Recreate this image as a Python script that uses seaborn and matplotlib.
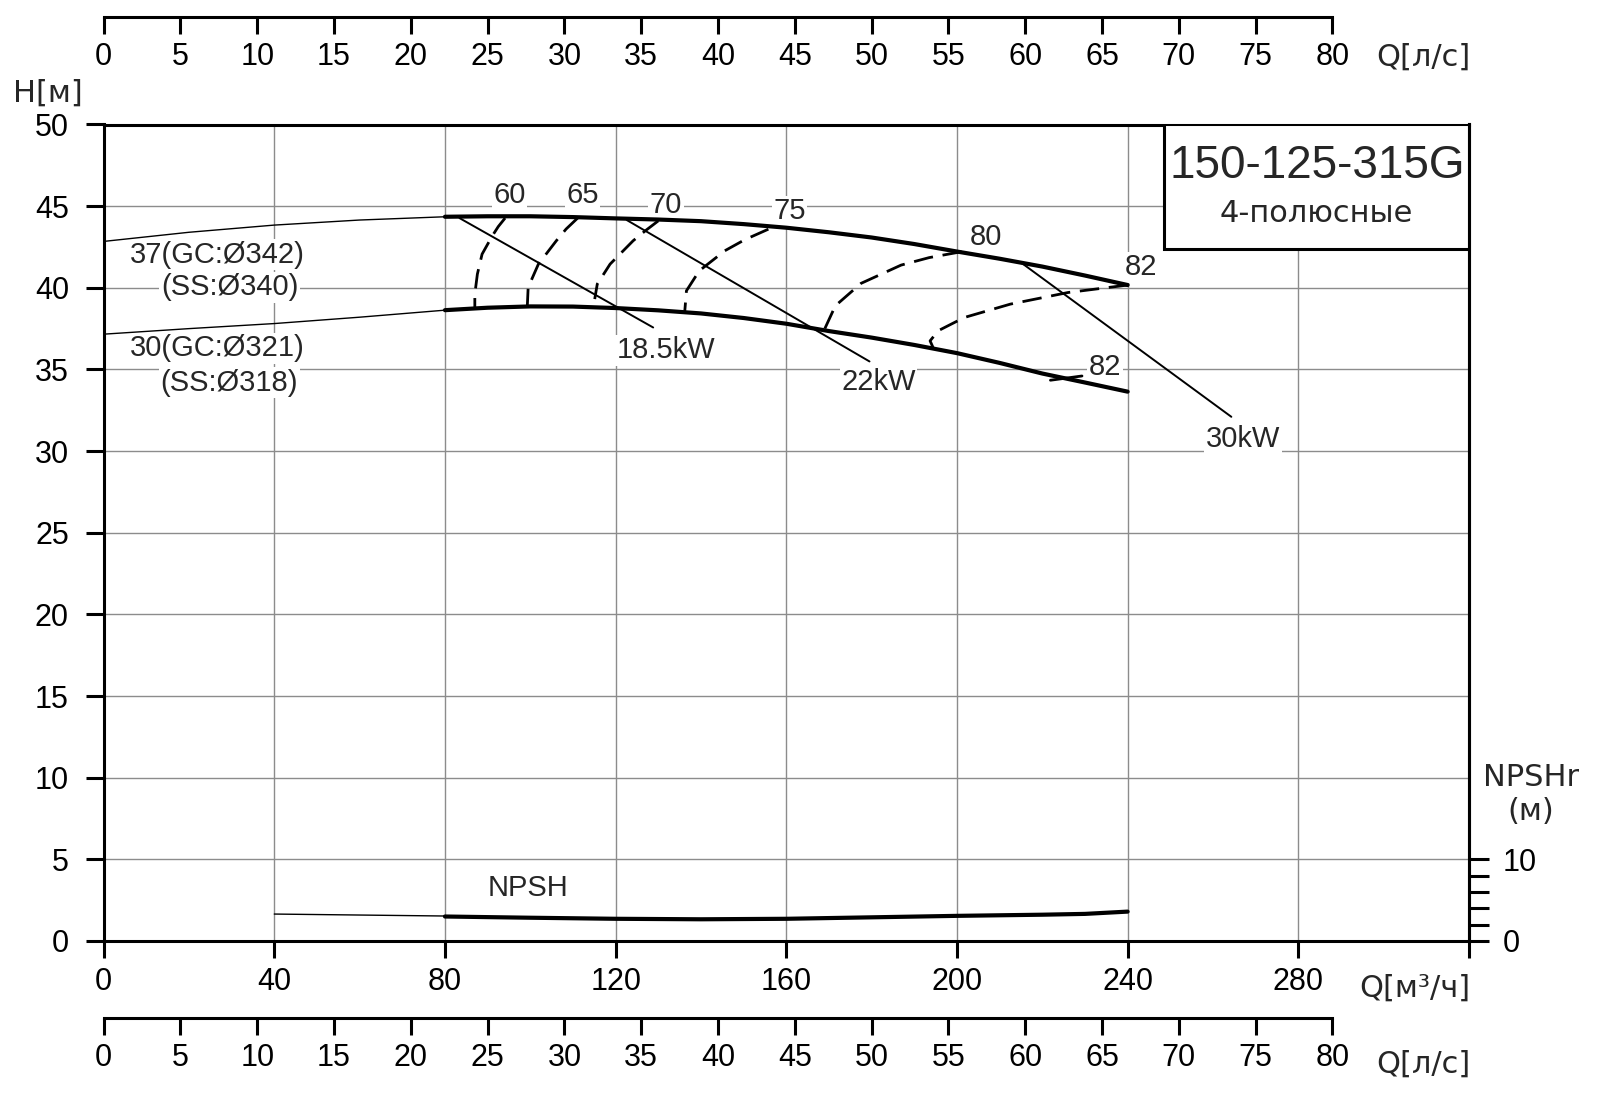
import matplotlib
matplotlib.use("Agg")
import matplotlib.pyplot as plt
import seaborn as sns
from matplotlib.patches import Rectangle

# ---- data (Q in m3/h, H in m, NPSH in m) ----
q_thin_342 = [0, 20, 40, 60, 80]
h_thin_342 = [42.84, 43.4, 43.84, 44.15, 44.35]
q_342 = [80, 90, 100, 110, 120, 130, 140, 150, 160, 170, 180, 190, 200, 210, 220, 230, 240]
h_342 = [44.35, 44.38, 44.38, 44.33, 44.25, 44.18, 44.08, 43.9, 43.68, 43.4, 43.08,
         42.68, 42.22, 41.78, 41.3, 40.75, 40.17]

q_thin_321 = [0, 20, 40, 60, 80]
h_thin_321 = [37.16, 37.5, 37.81, 38.2, 38.63]
q_321 = [80, 90, 100, 110, 120, 130, 140, 150, 160, 170, 180, 190, 200, 210, 220, 230, 240]
h_321 = [38.63, 38.78, 38.86, 38.85, 38.76, 38.62, 38.43, 38.15, 37.8, 37.35, 36.95,
         36.5, 36.0, 35.4, 34.75, 34.2, 33.64]

q_npsh_thin = [40, 80]
npsh_thin = [3.3, 3.06]
q_npsh = [80, 100, 120, 140, 160, 180, 200, 220, 230, 240]
npsh = [3.0, 2.85, 2.72, 2.66, 2.72, 2.9, 3.08, 3.22, 3.32, 3.6]

# iso-efficiency curves (dashed)
eff = {
    "60": ([94.1, 92.5, 91.1, 88.7, 87.6, 87.0, 87.0], [44.27, 43.75, 43.18, 42.06, 40.84, 39.61, 38.8]),
    "65": ([111.1, 108.4, 106.1, 101.9, 99.5, 99.3], [44.27, 43.6, 42.88, 41.45, 40.02, 38.86]),
    "70": ([130.0, 127.0, 124.1, 118.7, 115.7, 115.1], [44.1, 43.5, 42.88, 41.45, 40.23, 39.31]),
    "75": ([155.8, 150.3, 145.6, 139.6, 136.6, 136.2], [43.59, 42.95, 42.27, 41.04, 39.82, 38.55]),
    "80": ([201.1, 193.5, 186.9, 177.5, 171.5, 168.8], [42.21, 41.85, 41.39, 40.27, 38.9, 37.37]),
    "82": ([240.1, 226.0, 212.5, 201.7, 195.6, 193.7, 194.4], [40.17, 39.71, 39.0, 38.18, 37.37, 36.75, 36.34]),
}
# short single dash of the 82 % curve at the smaller impeller
q_eff82b = [221.9, 229.3]
h_eff82b = [34.34, 34.6]

eff_labels = [("60", 95.1, 45.7), ("65", 112.3, 45.7), ("70", 131.8, 45.1), ("75", 160.7, 44.7),
              ("80", 206.9, 43.14), ("82", 243.1, 41.27), ("82", 234.7, 35.15)]

# motor power lines
power = {
    "18.5kW": ([83.4, 128.8], [44.27, 37.57], 131.8, 36.18),
    "22kW": ([122.6, 179.5], [44.15, 35.49], 181.6, 34.26),
    "30kW": ([215.2, 264.3], [41.51, 32.1], 267.0, 30.77),
}

q_ticks = list(range(0, 321, 40))
h_ticks = list(range(0, 51, 5))
ls_ticks = list(range(0, 81, 5))

# ---- figure ----
sns.set_style("ticks")
plt.rcParams['font.family'] = ['Liberation Sans', 'DejaVu Sans']
W, H = 1600, 1096
fig = plt.figure(figsize=(16, 10.96), dpi=100)

ax = fig.add_axes([103.6 / W, 1 - 941 / H, (1469 - 103.6) / W, (941 - 124.5) / H])
ax.set_xlim(0, 320)
ax.set_ylim(0, 50)
ax.set_xticks(q_ticks)
ax.set_xticklabels([str(t) for t in q_ticks[:-1]] + [""])
ax.set_yticks(h_ticks)
ax.grid(True, color="#8c8c8c", lw=1.0)
ax.set_axisbelow(True)
for s in ax.spines.values():
    s.set_linewidth(2.2)
    s.set_color("black")
ax.tick_params(axis="x", bottom=True, direction="out", length=12.5, width=2.2,
               labelsize=22, pad=6, colors="black")
ax.tick_params(axis="y", left=True, direction="out", length=13, width=2.2,
               labelsize=22, pad=12, colors="black")


def curve(a, q, h, lw, ls="-"):
    sns.lineplot(x=q, y=h, ax=a, sort=False, estimator=None, color="black",
                 lw=lw, linestyle=ls, zorder=4)


curve(ax, q_thin_342, h_thin_342, 1.0)
curve(ax, q_342, h_342, 3.0)
curve(ax, q_thin_321, h_thin_321, 1.0)
curve(ax, q_321, h_321, 3.0)
for key, (q, h) in eff.items():
    curve(ax, q, h, 2.0, (0, (7, 3.5)))
curve(ax, q_eff82b, h_eff82b, 2.0)
for lab, (q, h, tx, ty) in power.items():
    curve(ax, q, h, 1.4)
    ax.text(tx, ty, lab, ha="center", va="center", fontsize=21, zorder=3,
            bbox=dict(fc="white", ec="none", pad=1))
for lab, tx, ty in eff_labels:
    ax.text(tx, ty, lab, ha="center", va="center", fontsize=21, zorder=3,
            bbox=dict(fc="white", ec="none", pad=1))

txt_kw = dict(ha="center", va="center", fontsize=21, zorder=3,
              bbox=dict(fc="white", ec="none", pad=1))
ax.text(26.7, 42.02, "37(GC:Ø342)", **txt_kw)
ax.text(29.5, 40.02, "(SS:Ø340)", **txt_kw)
ax.text(26.7, 36.31, "30(GC:Ø321)", **txt_kw)
ax.text(29.5, 34.2, "(SS:Ø318)", **txt_kw)
ax.text(99.5, 3.23, "NPSH", **txt_kw)

# title box
ax.add_patch(Rectangle((248.5, 42.37), 71.5, 7.63, fc="white", ec="black", lw=2.2, zorder=5))
ax.text(284.5, 47.47, "150-125-315G", ha="center", va="center", fontsize=33, zorder=6)
ax.text(284.2, 44.57, "4-полюсные", ha="center", va="center", fontsize=22, zorder=6,
        family=["DejaVu Sans"])

# NPSHr axis (right)
ax2 = ax.twinx()
ax2.set_ylim(0, 100)
ax2.grid(False)
for name, s in ax2.spines.items():
    s.set_visible(name == "right")
    s.set_linewidth(2.2)
    s.set_color("black")
ax2.set_yticks([0, 10])
ax2.set_yticks([2, 4, 6, 8], minor=True)
ax2.tick_params(axis="y", which="both", right=True, direction="out", length=14.4,
                width=2.2, labelsize=22, pad=10, colors="black")
curve(ax2, q_npsh_thin, npsh_thin, 1.0)
curve(ax2, q_npsh, npsh, 3.0)
ax2.set_ylabel("")

# l/s scales (top and bottom)
for ypix in (16.7, 1018.3):
    axl = fig.add_axes([103.6 / W, 1 - ypix / H, 288 / 320 * (1469 - 103.6) / W, 1e-4])
    axl.patch.set_visible(False)
    axl.set_xlim(0, 80)
    axl.set_xticks(ls_ticks)
    axl.set_yticks([])
    for name, s in axl.spines.items():
        s.set_visible(name == "bottom")
        s.set_linewidth(2.2)
        s.set_color("black")
    axl.tick_params(axis="x", bottom=True, direction="out", length=12, width=2.2,
                    labelsize=22, pad=6, colors="black")

# unit labels
lab_kw = dict(ha="center", va="center", fontsize=22, family=["DejaVu Sans"])
fig.text(47.4 / W, 1 - 93.3 / H, "H[м]", **lab_kw)
fig.text(1423.5 / W, 1 - 56.7 / H, "Q[л/с]", **lab_kw)
fig.text(1423.5 / W, 1 - 1064 / H, "Q[л/с]", **lab_kw)
fig.text(1414.8 / W, 1 - 988.3 / H, "Q[м³/ч]", **lab_kw)
fig.text(1530.6 / W, 1 - 777.3 / H, "NPSHr", **lab_kw)
fig.text(1530.6 / W, 1 - 811.7 / H, "(м)", **lab_kw)

fig.savefig("out.png", dpi=100, facecolor="white")
